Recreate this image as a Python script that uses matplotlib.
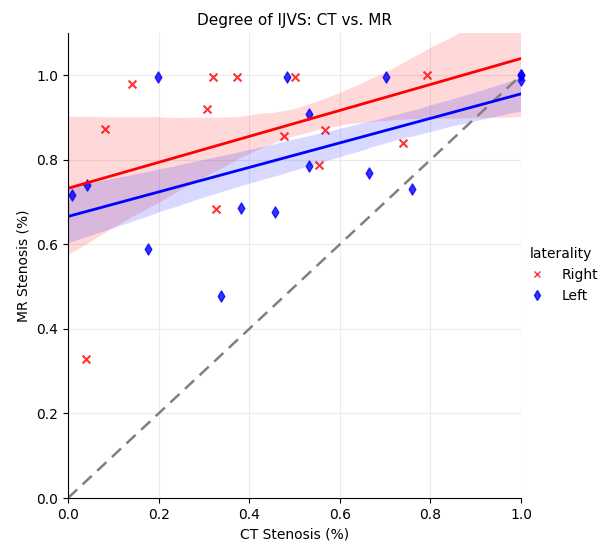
import numpy as np
import pandas as pd
import matplotlib
matplotlib.use("Agg")
import matplotlib.pyplot as plt
import seaborn as sns
from matplotlib.lines import Line2D

# CT vs MR stenosis
right_ct = [0.039, 0.082, 0.142, 0.307, 0.321, 0.327, 0.374, 0.477, 0.502,
            0.555, 0.567, 0.739, 0.792]
right_mr = [0.330, 0.874, 0.979, 0.920, 0.996, 0.683, 0.996, 0.856, 0.996,
            0.788, 0.871, 0.839, 1.000]
left_ct = [0.008, 0.043, 0.176, 0.199, 0.338, 0.382, 0.457, 0.483, 0.533,
           0.533, 0.664, 0.702, 0.759, 1.000, 1.000, 1.000]
left_mr = [0.716, 0.740, 0.589, 0.996, 0.478, 0.686, 0.677, 0.996, 0.909,
           0.785, 0.769, 0.996, 0.730, 1.000, 0.990, 1.000]

groups = ["Right", "Left"]
colors = {"Right": "red", "Left": "blue"}
markers = {"Right": "x", "Left": "d"}

df = pd.DataFrame({
    "CT": right_ct + left_ct,
    "MR": right_mr + left_mr,
    "laterality": ["Right"] * len(right_ct) + ["Left"] * len(left_ct),
})

fig = plt.figure(figsize=(6.15, 5.5), dpi=100)
ax = fig.add_axes([68 / 615, 1 - 498 / 550, (521 - 68) / 615, (498 - 33) / 550])
ax.set_xlim(0, 1)
ax.set_ylim(0, 1.1)
ax.grid(True, color="#ebebeb", lw=0.8)
ax.set_axisbelow(True)

for g in groups:
    sub = df[df.laterality == g]
    sns.regplot(x="CT", y="MR", data=sub, ax=ax, truncate=False, seed=3, ci=68,
                color=colors[g], marker=markers[g],
                scatter_kws={"s": 32, "alpha": 0.8, "clip_on": False},
                line_kws={"lw": 2})

ax.plot([0, 1], [0, 1], ls="--", color="gray", lw=1.8, dashes=(5, 3), zorder=1)

ax.set_xlim(0, 1)
ax.set_ylim(0, 1.1)
ax.set_xticks(np.arange(0, 1.01, 0.2))
ax.set_yticks(np.arange(0, 1.01, 0.2))
for s in ["top", "right"]:
    ax.spines[s].set_visible(False)
ax.tick_params(labelsize=10)
ax.set_xlabel("CT Stenosis (%)", fontsize=10)
ax.set_ylabel("MR Stenosis (%)", fontsize=10)
ax.set_title("Degree of IJVS: CT vs. MR", fontsize=11)

handles = [Line2D([], [], ls="", marker=markers[g], color=colors[g], alpha=0.8,
                  markersize=5) for g in groups]
fig.legend(handles, groups, title="laterality", loc="center left",
           bbox_to_anchor=(0.83, 0.5), frameon=False, fontsize=10,
           title_fontsize=10, handletextpad=0.8)

fig.savefig("out.png", dpi=100)
